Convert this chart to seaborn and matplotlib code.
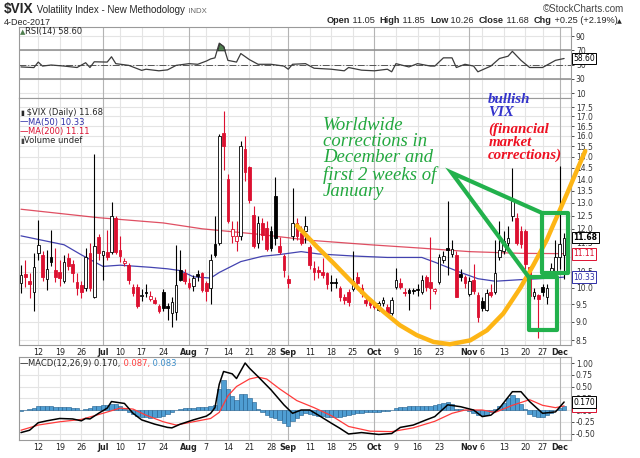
import matplotlib
matplotlib.use("Agg")
import matplotlib.pyplot as plt
from matplotlib.ticker import FixedLocator, FuncFormatter, NullLocator
import numpy as np
import seaborn as sns

W, H = 640, 458
RED = "#dc1030"
BLUE = "#2f2fa8"
GREEN = "#22b14c"
GOLD = "#fdb515"

# x = trading day, 0 = 6 Jun 2017 ... 126 = 4 Dec 2017
TICK_POS = [4, 9, 14, 19, 23, 28, 33, 39, 43, 48, 53, 58, 62, 67, 72, 77,
            82, 87, 92, 97, 104, 107, 112, 117, 121, 125]
TICK_LABELS = ["12", "19", "26", "Jul", "10", "17", "24", "Aug", "7", "14", "21", "28",
               "Sep", "11", "18", "25", "Oct", "9", "16", "23", "Nov", "6", "13", "20",
               "27", "Dec"]
MONTHS = ["Jul", "Aug", "Sep", "Oct", "Nov", "Dec"]

PRICE_TICKS = [8.5, 9.0, 9.5, 10.0, 10.5, 11.0, 11.5, 12.0, 12.5, 13.0, 13.5,
               14.0, 14.5, 15.0, 15.5, 16.0, 16.5, 17.0, 17.5]
RSI_TICKS = [10, 30, 50, 70, 90]
MACD_TICKS = [-0.5, -0.25, 0.0, 0.25, 0.5, 0.75, 1.0]

OPEN = [10.13, 10.43, 10.22, 9.87, 11.12, 11.07, 10.26, 11.01, 10.56, 10.50,
        10.22, 10.96, 10.76, 10.18, 10.08, 9.98, 11.12, 9.72, 11.70, 11.05,
        11.16, 11.16, 12.40, 11.24, 10.78, 10.73, 10.03, 10.03, 9.74, 9.86,
        9.66, 9.62, 9.45, 9.87, 9.41, 9.25, 9.28, 10.56, 10.45, 10.15,
        10.05, 10.40, 10.45, 10.13, 9.98, 11.45, 11.50, 16.17, 14.00, 11.72,
        11.55, 11.72, 15.36, 14.55, 12.54, 11.48, 12.20, 12.03, 11.90, 13.28,
        11.36, 11.04, 10.26, 11.72, 12.20, 11.84, 11.90, 11.33, 10.62, 10.56,
        10.51, 10.45, 10.15, 10.16, 9.98, 9.72, 9.87, 9.95, 10.34, 9.98,
        9.62, 9.57, 9.47, 9.33, 9.52, 9.43, 9.23, 10.03, 10.13, 9.85,
        9.93, 9.93, 9.95, 9.87, 10.34, 10.18, 9.90, 10.18, 10.90, 11.30,
        11.10, 11.07, 10.42, 10.34, 9.80, 10.24, 9.77, 9.59, 9.33, 9.85,
        9.87, 11.01, 11.20, 11.50, 12.50, 12.40, 11.90, 11.90, 10.66, 9.75,
        9.77, 10.03, 9.72, 10.45, 10.45, 11.00, 11.05]
HIGH = [10.73, 10.90, 10.45, 11.12, 12.34, 11.20, 11.24, 11.97, 11.30, 10.90,
        11.07, 11.12, 10.90, 10.45, 10.20, 11.30, 11.50, 15.12, 11.80, 11.20,
        11.97, 13.02, 12.50, 11.72, 10.95, 10.80, 10.10, 10.10, 9.95, 10.10,
        9.90, 9.70, 9.50, 9.95, 9.52, 9.72, 11.42, 11.24, 10.60, 10.30,
        10.40, 10.55, 10.50, 10.20, 11.10, 12.50, 16.10, 17.28, 14.20, 12.30,
        12.30, 15.75, 16.00, 14.60, 12.87, 12.47, 12.40, 12.30, 12.10, 14.10,
        11.70, 11.10, 10.40, 13.60, 12.40, 12.10, 12.50, 11.40, 10.85, 10.70,
        10.96, 10.50, 10.40, 10.30, 10.05, 9.80, 9.95, 11.20, 10.50, 10.10,
        9.70, 9.60, 9.55, 9.60, 9.70, 9.50, 9.70, 10.62, 10.30, 10.00,
        10.00, 10.00, 10.10, 10.40, 10.40, 11.70, 10.00, 11.10, 11.20, 13.10,
        11.60, 11.20, 10.60, 10.40, 10.35, 10.76, 9.85, 9.70, 9.95, 10.10,
        11.60, 12.30, 11.90, 12.10, 14.50, 12.60, 12.10, 12.00, 10.70, 10.00,
        9.80, 10.10, 10.10, 10.80, 11.60, 14.58, 11.85]
LOW = [9.82, 10.03, 9.67, 9.31, 10.90, 10.20, 9.93, 10.68, 10.18, 10.05,
       10.13, 10.56, 10.18, 9.77, 9.67, 9.90, 9.90, 9.67, 10.90, 10.24,
       10.90, 11.10, 11.10, 10.84, 10.70, 10.10, 9.75, 9.40, 9.60, 9.70,
       9.60, 9.50, 9.25, 9.30, 9.04, 8.84, 9.04, 10.20, 10.10, 9.95,
       9.90, 10.20, 9.85, 9.60, 9.50, 11.00, 11.40, 14.40, 12.20, 11.50,
       11.20, 11.60, 13.90, 13.00, 11.30, 11.30, 11.60, 11.20, 11.20, 11.40,
       11.10, 10.35, 10.00, 11.60, 11.60, 11.40, 11.50, 10.60, 10.24, 10.30,
       10.30, 9.95, 9.90, 10.00, 9.60, 9.50, 9.45, 9.90, 10.00, 9.70,
       9.45, 9.40, 9.35, 9.30, 9.45, 9.19, 9.20, 9.95, 9.95, 9.75,
       9.33, 9.80, 9.75, 9.80, 9.90, 9.35, 9.80, 10.10, 10.80, 10.40,
       11.00, 9.70, 10.20, 10.00, 9.75, 9.80, 9.00, 9.30, 9.30, 9.70,
       9.80, 10.90, 11.10, 11.30, 12.30, 11.40, 11.30, 10.60, 9.60, 9.65,
       8.56, 9.75, 9.50, 10.30, 10.40, 10.60, 10.26]
CLOSE = [10.40, 10.32, 10.11, 10.65, 11.42, 10.34, 10.58, 10.84, 10.32, 10.30,
         10.81, 10.70, 10.45, 9.98, 9.86, 11.01, 9.98, 11.36, 11.12, 11.20,
         11.01, 12.47, 11.16, 11.04, 10.86, 10.24, 9.84, 9.45, 9.78, 9.84,
         9.74, 9.54, 9.31, 9.39, 9.40, 9.57, 10.08, 10.24, 10.20, 10.03,
         10.30, 10.38, 9.93, 9.88, 10.90, 11.05, 16.00, 15.52, 12.28, 12.00,
         11.72, 15.52, 14.30, 13.14, 11.36, 12.20, 11.78, 11.28, 11.32, 11.66,
         11.15, 10.56, 10.13, 12.20, 11.72, 11.50, 12.10, 10.73, 10.51, 10.48,
         10.40, 10.10, 10.13, 10.15, 9.72, 9.62, 9.55, 10.20, 10.13, 9.82,
         9.52, 9.47, 9.43, 9.52, 9.62, 9.23, 9.62, 10.24, 10.03, 9.82,
         9.82, 9.90, 9.93, 10.24, 10.03, 9.98, 9.95, 11.01, 11.04, 11.23,
         11.28, 9.72, 10.33, 10.15, 10.20, 9.90, 9.12, 9.40, 9.82, 9.78,
         10.45, 11.24, 11.55, 11.65, 13.06, 11.50, 11.45, 10.75, 9.75, 9.87,
         9.65, 9.87, 9.98, 10.62, 11.01, 11.43, 11.68]

MA50_DAY = [0, 10, 14, 19, 23, 30, 34, 37, 40, 44, 46, 51, 56, 60, 65, 69, 77,
            85, 93, 96, 102, 106, 110, 116, 123, 126]
MA50_VAL = [11.74, 11.42, 11.07, 10.68, 10.72, 10.65, 10.60, 10.54, 10.34, 10.30,
            10.48, 10.84, 11.02, 11.08, 11.18, 11.10, 11.03, 10.98, 10.98, 10.82,
            10.48, 10.28, 10.20, 10.25, 10.30, 10.33]
MA200_DAY = [0, 18, 33, 42, 55, 67, 81, 93, 104, 116, 126]
MA200_VAL = [12.75, 12.42, 12.22, 12.00, 11.80, 11.58, 11.42, 11.30, 11.18, 11.12, 11.11]

RSI_DAY = [0, 3, 4, 5, 7, 10, 13, 15, 16, 17, 20, 21, 22, 25, 28, 29, 32, 34, 36,
           39, 41, 43, 44, 45, 46, 47, 48, 50, 51, 53, 55, 58, 61, 62, 63, 66, 68,
           72, 75, 76, 79, 82, 85, 86, 87, 90, 92, 95, 96, 98, 100, 101, 103, 105,
           106, 109, 111, 113, 114, 116, 118, 121, 124, 126]
RSI_VAL = [46.8, 45.9, 53.6, 48, 49.5, 48, 46, 52.7, 46, 54, 53.6, 61, 51.4, 49, 42,
           43.6, 41.4, 42.7, 49, 51.4, 50.5, 55, 58, 59.5, 80, 75.5, 56, 53.6, 65.5,
           57, 50.5, 50.5, 48, 43.6, 50.5, 51.4, 45, 43.6, 41.4, 46, 42.3, 41.4,
           43.6, 40, 51.4, 46.8, 51.4, 48, 48, 59.5, 59.5, 46, 50.5, 48, 40, 48,
           58.6, 61.8, 68.6, 56, 46, 46, 56, 58.6]

MACD_DAY = [0, 2, 4, 6, 9, 12, 14, 15, 16, 18, 20, 21, 24, 26, 28, 31, 34, 35, 37,
            40, 43, 44, 45, 46, 47, 49, 50, 52, 53, 55, 58, 61, 63, 65, 67, 69, 72,
            74, 76, 79, 83, 86, 88, 91, 94, 96, 99, 102, 105, 107, 109, 111, 114,
            116, 118, 121, 124, 126]
MACD_VAL = [-0.48, -0.43, -0.27, -0.23, -0.18, -0.19, -0.23, -0.18, -0.19, -0.07,
            0.04, 0.18, 0.14, -0.07, -0.21, -0.30, -0.37, -0.38, -0.30, -0.21,
            -0.13, -0.07, 0.05, 0.55, 0.82, 0.77, 0.67, 1.00, 0.89, 0.71,
            0.43, 0.11, -0.07, 0.00, 0.00, -0.11, -0.28, -0.39, -0.51, -0.48,
            -0.52, -0.50, -0.37, -0.32, -0.21, -0.14, 0.11, 0.07, 0.00, -0.14,
            -0.11, 0.04, 0.39, 0.39, 0.18, -0.07, -0.04, 0.17]
SIGNAL_DAY = [0, 4, 9, 14, 19, 23, 26, 29, 33, 36, 40, 44, 46, 48, 50, 53, 55, 57,
              60, 64, 68, 72, 76, 81, 86, 91, 96, 100, 103, 107, 110, 114, 118,
              121, 124, 126]
SIGNAL_VAL = [-0.43, -0.32, -0.25, -0.20, -0.07, 0.04, 0.02, -0.11, -0.25, -0.32,
              -0.25, -0.18, -0.05, 0.30, 0.50, 0.66, 0.70, 0.66, 0.45, 0.20,
              0.05, -0.12, -0.35, -0.45, -0.46, -0.38, -0.24, -0.07, 0.00, 0.00,
              -0.05, 0.10, 0.22, 0.10, 0.05, 0.087]
HIST = [-0.03, -0.01, 0.02, 0.05, 0.08, 0.09, 0.08, 0.09, 0.07, 0.06,
        0.07, 0.06, 0.05, 0.04, 0.01, 0.02, 0.05, 0.08, 0.09, 0.10,
        0.11, 0.13, 0.12, 0.09, 0.03, -0.04, -0.09, -0.12, -0.14, -0.15,
        -0.16, -0.15, -0.14, -0.12, -0.09, -0.05, 0.01, 0.03, 0.04, 0.05,
        0.05, 0.06, 0.06, 0.07, 0.08, 0.10, 0.45, 0.64, 0.45, 0.30,
        0.22, 0.35, 0.35, 0.25, 0.18, 0.03, -0.05, -0.10, -0.15, -0.18,
        -0.22, -0.27, -0.34, -0.24, -0.16, -0.10, -0.06, -0.08, -0.10, -0.12,
        -0.13, -0.14, -0.15, -0.15, -0.14, -0.12, -0.10, -0.08, -0.07, -0.06,
        -0.05, -0.05, -0.04, -0.04, -0.03, -0.02, -0.01, 0.04, 0.06, 0.07,
        0.08, 0.08, 0.08, 0.08, 0.08, 0.09, 0.10, 0.13, 0.15, 0.17,
        0.12, 0.02, 0.02, -0.01, -0.03, -0.06, -0.10, -0.11, -0.10, -0.05,
        0.02, 0.08, 0.15, 0.25, 0.32, 0.25, 0.12, 0.02, -0.08, -0.12,
        -0.15, -0.14, -0.11, -0.06, 0.00, 0.05, 0.08]

# hand-drawn overlay (trading day, price)
CURVE_DAY = [64.0, 68.6, 72.5, 76.3, 80.2, 84.1, 87.9, 91.8, 95.7, 99.5, 104.2,
             108.1, 111.9, 115.8, 118.9, 122.0, 123.5, 126.6, 128.9, 130.9]
CURVE_PRICE = [12.12, 11.36, 10.79, 10.24, 9.72, 9.28, 8.90, 8.63, 8.45, 8.39, 8.49,
               8.76, 9.23, 9.98, 10.73, 11.60, 12.15, 13.35, 14.35, 15.27]

sns.set_theme(style="white")
plt.rcParams["font.family"] = ["DejaVu Sans"]

fig = plt.figure(figsize=(W / 100, H / 100), dpi=100)


def panel(top, bottom):
    return fig.add_axes([19 / W, 1 - bottom / H, 552 / W, (bottom - top) / H])


ax_rsi = panel(27, 98)
ax_macd = panel(357, 440)
ax = panel(98, 345)
ax.set_yscale("log")

days = np.arange(len(CLOSE))

for a, ticks, fmt in [(ax_rsi, RSI_TICKS, "{:.0f}"), (ax, PRICE_TICKS, "{:.1f}"),
                      (ax_macd, MACD_TICKS, "{:.2f}")]:
    a.set_xlim(-0.46, 127.6)
    a.set_xticks(TICK_POS)
    a.set_xticklabels(TICK_LABELS)
    for p, lab in zip(TICK_POS, TICK_LABELS):
        a.axvline(p, color="#b4b4b4" if lab in MONTHS else "#e4e4e4", lw=0.8, zorder=0.6)
    a.yaxis.set_major_locator(FixedLocator(ticks))
    a.yaxis.set_major_formatter(FuncFormatter(lambda v, _p, f=fmt: f.format(v)))
    a.yaxis.set_minor_locator(NullLocator())
    a.yaxis.tick_right()
    a.grid(axis="y", color="#e4e4e4", lw=0.8)
    a.tick_params(axis="y", right=True, length=2, width=0.6, pad=1.5,
                  labelsize=5.5, colors="#333333")
    a.tick_params(axis="x", bottom=False, length=0, pad=2, labelsize=5.8,
                  labelcolor="#222222")
    for lbl in a.get_xticklabels():
        if lbl.get_text() in MONTHS:
            lbl.set_fontweight("bold")
    for s in a.spines.values():
        s.set_color("#9a9a9a")
        s.set_linewidth(0.8)
ax_rsi.tick_params(axis="x", labelbottom=False)

# --- price panel: candles + moving averages ---
o, hi, lo, c = (np.array(v) for v in (OPEN, HIGH, LOW, CLOSE))
prev = np.r_[c[0], c[:-1]]
edge = np.where(c < prev, RED, "black")
face = np.where(c >= o, "white", edge)
sns.lineplot(x=MA200_DAY, y=MA200_VAL, ax=ax, color="#d8243c", lw=0.9, alpha=0.8, zorder=2.5)
sns.lineplot(x=MA50_DAY, y=MA50_VAL, ax=ax, color=BLUE, lw=0.9, alpha=0.9, zorder=2.5)
ax.vlines(days, lo, hi, colors=edge, lw=0.8, zorder=3)
base = np.minimum(o, c)
span = np.maximum(np.abs(c - o), base * 0.004)
ax.bar(days, span, bottom=base, width=0.62, color=face, edgecolor=edge,
       linewidth=0.6, zorder=4)
ax.set_ylim(8.37, 18.0)
ax.set_xlabel("")
ax.set_ylabel("")

# --- RSI ---
sns.lineplot(x=RSI_DAY, y=RSI_VAL, ax=ax_rsi, color="#3c3c3c", lw=0.9, zorder=3)
ax_rsi.fill_between(RSI_DAY, 70, RSI_VAL, where=np.array(RSI_VAL) > 70, interpolate=True,
                    facecolor="#4f7f4f", edgecolor="#222222", lw=0.6, zorder=2.8)
ax_rsi.axhline(70, color="#8c8c8c", lw=1.1, zorder=1)
ax_rsi.axhline(30, color="#8c8c8c", lw=1.1, zorder=1)
ax_rsi.axhline(50, color="#555555", lw=0.7, ls=(0, (7, 2, 1, 2)), zorder=1)
ax_rsi.set_ylim(3.4, 102.6)
ax_rsi.set_xlabel("")
ax_rsi.set_ylabel("")

# --- MACD ---
ax_macd.bar(days, HIST, width=1.0, color="#4f9ed3", edgecolor="#1e5c8c", lw=0.4, zorder=2)
sns.lineplot(x=SIGNAL_DAY, y=SIGNAL_VAL, ax=ax_macd, color="#ff3b3b", lw=0.9, zorder=3)
sns.lineplot(x=MACD_DAY, y=MACD_VAL, ax=ax_macd, color="black", lw=1.1, zorder=4)
ax_macd.set_ylim(-0.638, 1.128)
ax_macd.set_xlabel("")
ax_macd.set_ylabel("")


def value_box(a, v, txt, color, bold=False):
    a.text(1.004, v, txt, transform=a.get_yaxis_transform(), ha="left", va="center",
           fontsize=5.5, color=color, fontweight="bold" if bold else "normal",
           bbox=dict(boxstyle="square,pad=0.18", fc="white", ec=color, lw=0.7),
           zorder=10, clip_on=False)


value_box(ax, MA200_VAL[-1], f"{MA200_VAL[-1]:.2f}", RED)
value_box(ax, MA50_VAL[-1], f"{MA50_VAL[-1]:.2f}", BLUE)
value_box(ax, CLOSE[-1], f"{CLOSE[-1]:.2f}", "black", bold=True)
value_box(ax_rsi, RSI_VAL[-1], f"{RSI_VAL[-1]:.2f}", "black")
value_box(ax_macd, SIGNAL_VAL[-1], f"{SIGNAL_VAL[-1]:.3f}", RED)
value_box(ax_macd, MACD_VAL[-1], f"{MACD_VAL[-1]:.3f}", "black")

# --- hand-drawn annotations ---
ax.plot(CURVE_DAY, CURVE_PRICE, color=GOLD, lw=3.2, solid_capstyle="round",
        solid_joinstyle="round", clip_on=False, zorder=8)
ax.plot([120.8, 99.9, 117.7], [12.61, 14.28, 10.35], color=GREEN, lw=3,
        solid_joinstyle="miter", clip_on=False, zorder=9)
ax.plot([120.8, 126.8, 126.8, 120.8, 120.8], [12.61, 12.61, 10.46, 10.46, 12.61],
        color=GREEN, lw=3, clip_on=False, zorder=9)
ax.plot([117.75, 124.3, 124.3, 117.75, 117.75], [10.32, 10.32, 8.78, 8.78, 10.32],
        color=GREEN, lw=3, clip_on=False, zorder=9)
ax.text(70.1, 14.93, "Worldwide\ncorrections in\nDecember and\nfirst 2 weeks of\nJanuary",
        family="Liberation Serif", style="italic", fontsize=13.5, linespacing=0.95,
        color="#23a83f", ha="left", va="center", zorder=9, clip_on=False)
ax.text(108.4, 17.55, "bullish\nVIX", family="Liberation Serif", style="italic",
        fontweight="bold", fontsize=10.8, linespacing=0.98, color="#3333cc",
        ha="left", va="center", zorder=9, clip_on=False)
ax.text(108.4, 15.7, "(financial\nmarket\ncorrections)", family="Liberation Serif",
        style="italic", fontweight="bold", fontsize=10.8, linespacing=0.98,
        color="#ee1122", ha="left", va="center", zorder=9, clip_on=False)

# --- header and panel legends ---
renderer = fig.canvas.get_renderer()


def run_text(x, y, pieces, align="left"):
    order = pieces if align == "left" else pieces[::-1]
    for s, kw in order:
        t = fig.text(x / W, 1 - y / H, s, ha=align, va="baseline", **kw)
        bb = t.get_window_extent(renderer)
        x = bb.x1 if align == "left" else bb.x0


HDR = dict(family="Liberation Sans")
run_text(4, 13, [("$VIX", dict(HDR, fontsize=9.8, fontweight="bold")),
                 (" Volatility Index - New Methodology", dict(HDR, fontsize=7)),
                 ("  INDX", dict(HDR, fontsize=5.6, color="#666666"))])
run_text(4, 25, [("4-Dec-2017", dict(HDR, fontsize=6.5))])
run_text(624, 12, [("\u00a9StockCharts.com", dict(HDR, fontsize=7, color="#444444"))],
         align="right")
chg = CLOSE[-1] - CLOSE[-2]
pct = chg / CLOSE[-2] * 100
B = dict(HDR, fontsize=6.6, fontweight="bold")
N = dict(HDR, fontsize=6.6)
run_text(622, 23, [("Open", B), (f" {OPEN[-1]:.2f}  ", N), ("High", B), (f" {HIGH[-1]:.2f}  ", N),
                   ("Low", B), (f" {LOW[-1]:.2f}  ", N), ("Close", B), (f" {CLOSE[-1]:.2f}  ", N),
                   ("Chg", B), (f" {chg:+.2f} ({pct:+.2f}%)", N),
                   ("\u25b2", dict(fontsize=4.5))], align="right")

LEG = dict(fontsize=6)
run_text(20, 34, [("\u25b2", dict(fontsize=5, color="#4f7f4f")),
                  (f"RSI(14) {RSI_VAL[-1]:.2f}", LEG)])
run_text(20, 115, [("\u25ae", dict(fontsize=5)),
                   (f" $VIX (Daily) {CLOSE[-1]:.2f}", LEG)])
run_text(20, 124.5, [("\u2014", dict(fontsize=6, color=BLUE)),
                     (f"MA(50) {MA50_VAL[-1]:.2f}", dict(LEG, color=BLUE))])
run_text(20, 134, [("\u2014", dict(fontsize=6, color=RED)),
                   (f"MA(200) {MA200_VAL[-1]:.2f}", dict(LEG, color=RED))])
run_text(20, 143, [("\u25ae", dict(fontsize=5, color="#444444")),
                   ("Volume undef", LEG)])
run_text(20, 366, [("\u2014", dict(fontsize=6)),
                   (f"MACD(12,26,9) {MACD_VAL[-1]:.3f},", LEG),
                   (f" {SIGNAL_VAL[-1]:.3f},", dict(LEG, color="#ff3b3b")),
                   (f" {HIST[-1] + 0.003:.3f}", dict(LEG, color="#3a8cc8"))])

fig.savefig("out.png", dpi=100)
